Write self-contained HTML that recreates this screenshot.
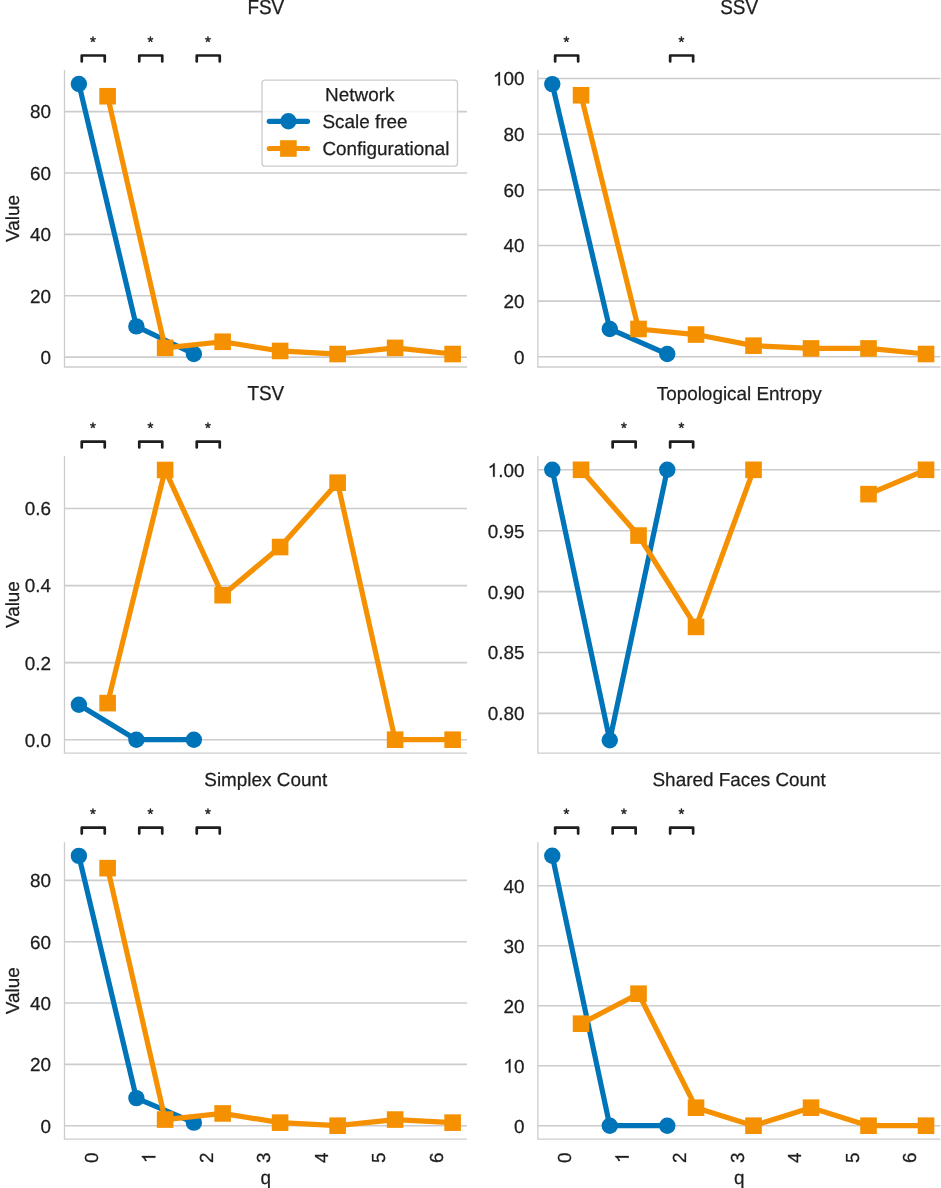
<!DOCTYPE html>
<html><head><meta charset="utf-8"><style>
html,body{margin:0;padding:0;background:#fff;}
svg{display:block;will-change:transform;}
text{font-family:"Liberation Sans",sans-serif;fill:#1e1e1e;stroke:#1e1e1e;stroke-width:0.25px;text-rendering:geometricPrecision;}
</style></head><body>
<svg width="941" height="1188" viewBox="0 0 941 1188">
<rect width="941" height="1188" fill="#fff"/>
<line x1="64.5" y1="357.1" x2="467" y2="357.1" stroke="#cccccc" stroke-width="1.6"/>
<text x="51.05" y="364" text-anchor="end" font-size="18.9">0</text>
<line x1="64.5" y1="295.72" x2="467" y2="295.72" stroke="#cccccc" stroke-width="1.6"/>
<text x="51.05" y="302.62" text-anchor="end" font-size="18.9">20</text>
<line x1="64.5" y1="234.34" x2="467" y2="234.34" stroke="#cccccc" stroke-width="1.6"/>
<text x="51.05" y="241.24" text-anchor="end" font-size="18.9">40</text>
<line x1="64.5" y1="172.96" x2="467" y2="172.96" stroke="#cccccc" stroke-width="1.6"/>
<text x="51.05" y="179.86" text-anchor="end" font-size="18.9">60</text>
<line x1="64.5" y1="111.58" x2="467" y2="111.58" stroke="#cccccc" stroke-width="1.6"/>
<text x="51.05" y="118.48" text-anchor="end" font-size="18.9">80</text>
<line x1="64.5" y1="70" x2="64.5" y2="367" stroke="#cccccc" stroke-width="1.3"/>
<line x1="63.85" y1="367" x2="467" y2="367" stroke="#cccccc" stroke-width="1.3"/>
<text transform="translate(265.75 13.9) scale(1 1.07)" text-anchor="middle" font-size="18.9">FSV</text>
<path d="M81.75 61.4V55.5H104.75V61.4" fill="none" stroke="#1e1e1e" stroke-width="2.7" stroke-linecap="round" stroke-linejoin="round"/>
<text x="93" y="46.72" text-anchor="middle" font-size="15" style="stroke-width:0.45px">*</text>
<path d="M139.25 61.4V55.5H162.25V61.4" fill="none" stroke="#1e1e1e" stroke-width="2.7" stroke-linecap="round" stroke-linejoin="round"/>
<text x="150.5" y="46.72" text-anchor="middle" font-size="15" style="stroke-width:0.45px">*</text>
<path d="M196.75 61.4V55.5H219.75V61.4" fill="none" stroke="#1e1e1e" stroke-width="2.7" stroke-linecap="round" stroke-linejoin="round"/>
<text x="208" y="46.72" text-anchor="middle" font-size="15" style="stroke-width:0.45px">*</text>
<path d="M78.88 83.96L136.38 326.41L193.88 354.03" fill="none" stroke="#0074b9" stroke-width="5.2" stroke-linejoin="round" stroke-linecap="round"/>
<circle cx="78.88" cy="83.96" r="8.2" fill="#0074b9"/>
<circle cx="136.38" cy="326.41" r="8.2" fill="#0074b9"/>
<circle cx="193.88" cy="354.03" r="8.2" fill="#0074b9"/>
<path d="M107.62 96.24L165.12 347.89L222.62 341.75L280.12 350.96L337.62 354.03L395.12 347.89L452.62 354.03" fill="none" stroke="#f59100" stroke-width="5.2" stroke-linejoin="round" stroke-linecap="round"/>
<rect x="99.33" y="87.94" width="16.6" height="16.6" fill="#f59100"/>
<rect x="156.82" y="339.59" width="16.6" height="16.6" fill="#f59100"/>
<rect x="214.32" y="333.45" width="16.6" height="16.6" fill="#f59100"/>
<rect x="271.82" y="342.66" width="16.6" height="16.6" fill="#f59100"/>
<rect x="329.32" y="345.73" width="16.6" height="16.6" fill="#f59100"/>
<rect x="386.82" y="339.59" width="16.6" height="16.6" fill="#f59100"/>
<rect x="444.32" y="345.73" width="16.6" height="16.6" fill="#f59100"/>
<text transform="translate(19.0 218.5) rotate(-90)" text-anchor="middle" font-size="18.9">Value</text>
<line x1="537.9" y1="356.8" x2="940.4" y2="356.8" stroke="#cccccc" stroke-width="1.6"/>
<text x="524.45" y="363.7" text-anchor="end" font-size="18.9">0</text>
<line x1="537.9" y1="301.15" x2="940.4" y2="301.15" stroke="#cccccc" stroke-width="1.6"/>
<text x="524.45" y="308.05" text-anchor="end" font-size="18.9">20</text>
<line x1="537.9" y1="245.5" x2="940.4" y2="245.5" stroke="#cccccc" stroke-width="1.6"/>
<text x="524.45" y="252.4" text-anchor="end" font-size="18.9">40</text>
<line x1="537.9" y1="189.85" x2="940.4" y2="189.85" stroke="#cccccc" stroke-width="1.6"/>
<text x="524.45" y="196.75" text-anchor="end" font-size="18.9">60</text>
<line x1="537.9" y1="134.2" x2="940.4" y2="134.2" stroke="#cccccc" stroke-width="1.6"/>
<text x="524.45" y="141.1" text-anchor="end" font-size="18.9">80</text>
<line x1="537.9" y1="78.55" x2="940.4" y2="78.55" stroke="#cccccc" stroke-width="1.6"/>
<path transform="translate(492.92 85.45) scale(0.00923 -0.00923)" d="M763 0L583 0L583 1147Q518 1085 433 1035Q348 985 223 938L223 1112Q447 1217 531 1302.5Q615 1388 646 1466L763 1466Z" fill="#1e1e1e" stroke="#1e1e1e" stroke-width="27.1"/><text x="503.43" y="85.45" font-size="18.9">00</text>
<line x1="537.9" y1="70" x2="537.9" y2="367" stroke="#cccccc" stroke-width="1.3"/>
<line x1="537.25" y1="367" x2="940.4" y2="367" stroke="#cccccc" stroke-width="1.3"/>
<text transform="translate(739.15 13.9) scale(1 1.07)" text-anchor="middle" font-size="18.9">SSV</text>
<path d="M555.15 61.4V55.5H578.15V61.4" fill="none" stroke="#1e1e1e" stroke-width="2.7" stroke-linecap="round" stroke-linejoin="round"/>
<text x="566.4" y="46.72" text-anchor="middle" font-size="15" style="stroke-width:0.45px">*</text>
<path d="M670.15 61.4V55.5H693.15V61.4" fill="none" stroke="#1e1e1e" stroke-width="2.7" stroke-linecap="round" stroke-linejoin="round"/>
<text x="681.4" y="46.72" text-anchor="middle" font-size="15" style="stroke-width:0.45px">*</text>
<path d="M552.27 84.12L609.77 328.98L667.27 354.02" fill="none" stroke="#0074b9" stroke-width="5.2" stroke-linejoin="round" stroke-linecap="round"/>
<circle cx="552.27" cy="84.12" r="8.2" fill="#0074b9"/>
<circle cx="609.77" cy="328.98" r="8.2" fill="#0074b9"/>
<circle cx="667.27" cy="354.02" r="8.2" fill="#0074b9"/>
<path d="M581.02 95.25L638.52 328.98L696.02 334.54L753.52 345.67L811.02 348.45L868.52 348.45L926.02 354.02" fill="none" stroke="#f59100" stroke-width="5.2" stroke-linejoin="round" stroke-linecap="round"/>
<rect x="572.73" y="86.95" width="16.6" height="16.6" fill="#f59100"/>
<rect x="630.23" y="320.68" width="16.6" height="16.6" fill="#f59100"/>
<rect x="687.73" y="326.24" width="16.6" height="16.6" fill="#f59100"/>
<rect x="745.23" y="337.37" width="16.6" height="16.6" fill="#f59100"/>
<rect x="802.73" y="340.15" width="16.6" height="16.6" fill="#f59100"/>
<rect x="860.23" y="340.15" width="16.6" height="16.6" fill="#f59100"/>
<rect x="917.73" y="345.72" width="16.6" height="16.6" fill="#f59100"/>
<line x1="64.5" y1="739.7" x2="467" y2="739.7" stroke="#cccccc" stroke-width="1.6"/>
<text x="51.05" y="746.6" text-anchor="end" font-size="18.9">0.0</text>
<line x1="64.5" y1="662.64" x2="467" y2="662.64" stroke="#cccccc" stroke-width="1.6"/>
<text x="51.05" y="669.54" text-anchor="end" font-size="18.9">0.2</text>
<line x1="64.5" y1="585.58" x2="467" y2="585.58" stroke="#cccccc" stroke-width="1.6"/>
<text x="51.05" y="592.48" text-anchor="end" font-size="18.9">0.4</text>
<line x1="64.5" y1="508.52" x2="467" y2="508.52" stroke="#cccccc" stroke-width="1.6"/>
<text x="51.05" y="515.42" text-anchor="end" font-size="18.9">0.6</text>
<line x1="64.5" y1="456.1" x2="64.5" y2="753.1" stroke="#cccccc" stroke-width="1.3"/>
<line x1="63.85" y1="753.1" x2="467" y2="753.1" stroke="#cccccc" stroke-width="1.3"/>
<text transform="translate(265.75 400) scale(1 1.07)" text-anchor="middle" font-size="18.9">TSV</text>
<path d="M81.75 447.5V441.6H104.75V447.5" fill="none" stroke="#1e1e1e" stroke-width="2.7" stroke-linecap="round" stroke-linejoin="round"/>
<text x="93" y="432.82" text-anchor="middle" font-size="15" style="stroke-width:0.45px">*</text>
<path d="M139.25 447.5V441.6H162.25V447.5" fill="none" stroke="#1e1e1e" stroke-width="2.7" stroke-linecap="round" stroke-linejoin="round"/>
<text x="150.5" y="432.82" text-anchor="middle" font-size="15" style="stroke-width:0.45px">*</text>
<path d="M196.75 447.5V441.6H219.75V447.5" fill="none" stroke="#1e1e1e" stroke-width="2.7" stroke-linecap="round" stroke-linejoin="round"/>
<text x="208" y="432.82" text-anchor="middle" font-size="15" style="stroke-width:0.45px">*</text>
<path d="M78.88 704.71L136.38 739.7L193.88 739.7" fill="none" stroke="#0074b9" stroke-width="5.2" stroke-linejoin="round" stroke-linecap="round"/>
<circle cx="78.88" cy="704.71" r="8.2" fill="#0074b9"/>
<circle cx="136.38" cy="739.7" r="8.2" fill="#0074b9"/>
<circle cx="193.88" cy="739.7" r="8.2" fill="#0074b9"/>
<path d="M107.62 703.1L165.12 469.99L222.62 595.21L280.12 547.05L337.62 482.7L395.12 739.7L452.62 739.7" fill="none" stroke="#f59100" stroke-width="5.2" stroke-linejoin="round" stroke-linecap="round"/>
<rect x="99.33" y="694.8" width="16.6" height="16.6" fill="#f59100"/>
<rect x="156.82" y="461.69" width="16.6" height="16.6" fill="#f59100"/>
<rect x="214.32" y="586.91" width="16.6" height="16.6" fill="#f59100"/>
<rect x="271.82" y="538.75" width="16.6" height="16.6" fill="#f59100"/>
<rect x="329.32" y="474.4" width="16.6" height="16.6" fill="#f59100"/>
<rect x="386.82" y="731.4" width="16.6" height="16.6" fill="#f59100"/>
<rect x="444.32" y="731.4" width="16.6" height="16.6" fill="#f59100"/>
<text transform="translate(19.0 604.6) rotate(-90)" text-anchor="middle" font-size="18.9">Value</text>
<line x1="537.9" y1="713.4" x2="940.4" y2="713.4" stroke="#cccccc" stroke-width="1.6"/>
<text x="524.45" y="720.3" text-anchor="end" font-size="18.9">0.80</text>
<line x1="537.9" y1="652.5" x2="940.4" y2="652.5" stroke="#cccccc" stroke-width="1.6"/>
<text x="524.45" y="659.4" text-anchor="end" font-size="18.9">0.85</text>
<line x1="537.9" y1="591.6" x2="940.4" y2="591.6" stroke="#cccccc" stroke-width="1.6"/>
<text x="524.45" y="598.5" text-anchor="end" font-size="18.9">0.90</text>
<line x1="537.9" y1="530.7" x2="940.4" y2="530.7" stroke="#cccccc" stroke-width="1.6"/>
<text x="524.45" y="537.6" text-anchor="end" font-size="18.9">0.95</text>
<line x1="537.9" y1="469.8" x2="940.4" y2="469.8" stroke="#cccccc" stroke-width="1.6"/>
<path transform="translate(487.67 476.7) scale(0.00923 -0.00923)" d="M763 0L583 0L583 1147Q518 1085 433 1035Q348 985 223 938L223 1112Q447 1217 531 1302.5Q615 1388 646 1466L763 1466Z" fill="#1e1e1e" stroke="#1e1e1e" stroke-width="27.1"/><text x="498.18" y="476.7" font-size="18.9">.00</text>
<line x1="537.9" y1="456.1" x2="537.9" y2="753.1" stroke="#cccccc" stroke-width="1.3"/>
<line x1="537.25" y1="753.1" x2="940.4" y2="753.1" stroke="#cccccc" stroke-width="1.3"/>
<text transform="translate(739.15 400) scale(1 1.0)" text-anchor="middle" font-size="18.9">Topological Entropy</text>
<path d="M612.65 447.5V441.6H635.65V447.5" fill="none" stroke="#1e1e1e" stroke-width="2.7" stroke-linecap="round" stroke-linejoin="round"/>
<text x="623.9" y="432.82" text-anchor="middle" font-size="15" style="stroke-width:0.45px">*</text>
<path d="M670.15 447.5V441.6H693.15V447.5" fill="none" stroke="#1e1e1e" stroke-width="2.7" stroke-linecap="round" stroke-linejoin="round"/>
<text x="681.4" y="432.82" text-anchor="middle" font-size="15" style="stroke-width:0.45px">*</text>
<path d="M552.27 469.8L609.77 740.2L667.27 469.8" fill="none" stroke="#0074b9" stroke-width="5.2" stroke-linejoin="round" stroke-linecap="round"/>
<circle cx="552.27" cy="469.8" r="8.2" fill="#0074b9"/>
<circle cx="609.77" cy="740.2" r="8.2" fill="#0074b9"/>
<circle cx="667.27" cy="469.8" r="8.2" fill="#0074b9"/>
<path d="M581.02 469.8L638.52 535.57L696.02 626.92L753.52 469.8" fill="none" stroke="#f59100" stroke-width="5.2" stroke-linejoin="round" stroke-linecap="round"/>
<path d="M868.52 494.16L926.02 469.8" fill="none" stroke="#f59100" stroke-width="5.2" stroke-linejoin="round" stroke-linecap="round"/>
<rect x="572.73" y="461.5" width="16.6" height="16.6" fill="#f59100"/>
<rect x="630.23" y="527.27" width="16.6" height="16.6" fill="#f59100"/>
<rect x="687.73" y="618.62" width="16.6" height="16.6" fill="#f59100"/>
<rect x="745.23" y="461.5" width="16.6" height="16.6" fill="#f59100"/>
<rect x="860.23" y="485.86" width="16.6" height="16.6" fill="#f59100"/>
<rect x="917.73" y="461.5" width="16.6" height="16.6" fill="#f59100"/>
<line x1="64.5" y1="1125.7" x2="467" y2="1125.7" stroke="#cccccc" stroke-width="1.6"/>
<text x="51.05" y="1132.6" text-anchor="end" font-size="18.9">0</text>
<line x1="64.5" y1="1064.38" x2="467" y2="1064.38" stroke="#cccccc" stroke-width="1.6"/>
<text x="51.05" y="1071.28" text-anchor="end" font-size="18.9">20</text>
<line x1="64.5" y1="1003.06" x2="467" y2="1003.06" stroke="#cccccc" stroke-width="1.6"/>
<text x="51.05" y="1009.96" text-anchor="end" font-size="18.9">40</text>
<line x1="64.5" y1="941.74" x2="467" y2="941.74" stroke="#cccccc" stroke-width="1.6"/>
<text x="51.05" y="948.64" text-anchor="end" font-size="18.9">60</text>
<line x1="64.5" y1="880.42" x2="467" y2="880.42" stroke="#cccccc" stroke-width="1.6"/>
<text x="51.05" y="887.32" text-anchor="end" font-size="18.9">80</text>
<line x1="64.5" y1="842.2" x2="64.5" y2="1139.2" stroke="#cccccc" stroke-width="1.3"/>
<line x1="63.85" y1="1139.2" x2="467" y2="1139.2" stroke="#cccccc" stroke-width="1.3"/>
<text transform="translate(265.75 786.1) scale(1 1.0)" text-anchor="middle" font-size="18.9">Simplex Count</text>
<path d="M81.75 833.6V827.7H104.75V833.6" fill="none" stroke="#1e1e1e" stroke-width="2.7" stroke-linecap="round" stroke-linejoin="round"/>
<text x="93" y="818.92" text-anchor="middle" font-size="15" style="stroke-width:0.45px">*</text>
<path d="M139.25 833.6V827.7H162.25V833.6" fill="none" stroke="#1e1e1e" stroke-width="2.7" stroke-linecap="round" stroke-linejoin="round"/>
<text x="150.5" y="818.92" text-anchor="middle" font-size="15" style="stroke-width:0.45px">*</text>
<path d="M196.75 833.6V827.7H219.75V833.6" fill="none" stroke="#1e1e1e" stroke-width="2.7" stroke-linecap="round" stroke-linejoin="round"/>
<text x="208" y="818.92" text-anchor="middle" font-size="15" style="stroke-width:0.45px">*</text>
<path d="M78.88 855.89L136.38 1098.11L193.88 1122.63" fill="none" stroke="#0074b9" stroke-width="5.2" stroke-linejoin="round" stroke-linecap="round"/>
<circle cx="78.88" cy="855.89" r="8.2" fill="#0074b9"/>
<circle cx="136.38" cy="1098.11" r="8.2" fill="#0074b9"/>
<circle cx="193.88" cy="1122.63" r="8.2" fill="#0074b9"/>
<path d="M107.62 868.16L165.12 1119.57L222.62 1113.44L280.12 1122.63L337.62 1125.7L395.12 1119.57L452.62 1122.63" fill="none" stroke="#f59100" stroke-width="5.2" stroke-linejoin="round" stroke-linecap="round"/>
<rect x="99.33" y="859.86" width="16.6" height="16.6" fill="#f59100"/>
<rect x="156.82" y="1111.27" width="16.6" height="16.6" fill="#f59100"/>
<rect x="214.32" y="1105.14" width="16.6" height="16.6" fill="#f59100"/>
<rect x="271.82" y="1114.33" width="16.6" height="16.6" fill="#f59100"/>
<rect x="329.32" y="1117.4" width="16.6" height="16.6" fill="#f59100"/>
<rect x="386.82" y="1111.27" width="16.6" height="16.6" fill="#f59100"/>
<rect x="444.32" y="1114.33" width="16.6" height="16.6" fill="#f59100"/>
<text transform="translate(19.0 990.7) rotate(-90)" text-anchor="middle" font-size="18.9">Value</text>
<text transform="translate(97.85 1152.5) rotate(-90)" text-anchor="end" font-size="18.9">0</text>
<path transform="translate(155.35 1152.5) rotate(-90) translate(-10.51 0) scale(0.00923 -0.00923)" d="M763 0L583 0L583 1147Q518 1085 433 1035Q348 985 223 938L223 1112Q447 1217 531 1302.5Q615 1388 646 1466L763 1466Z" fill="#1e1e1e" stroke="#1e1e1e" stroke-width="27.1"/>
<text transform="translate(212.85 1152.5) rotate(-90)" text-anchor="end" font-size="18.9">2</text>
<text transform="translate(270.35 1152.5) rotate(-90)" text-anchor="end" font-size="18.9">3</text>
<text transform="translate(327.85 1152.5) rotate(-90)" text-anchor="end" font-size="18.9">4</text>
<text transform="translate(385.35 1152.5) rotate(-90)" text-anchor="end" font-size="18.9">5</text>
<text transform="translate(442.85 1152.5) rotate(-90)" text-anchor="end" font-size="18.9">6</text>
<text x="265.75" y="1183.8" text-anchor="middle" font-size="18.9">q</text>
<line x1="537.9" y1="1125.7" x2="940.4" y2="1125.7" stroke="#cccccc" stroke-width="1.6"/>
<text x="524.45" y="1132.6" text-anchor="end" font-size="18.9">0</text>
<line x1="537.9" y1="1065.7" x2="940.4" y2="1065.7" stroke="#cccccc" stroke-width="1.6"/>
<path transform="translate(503.43 1072.6) scale(0.00923 -0.00923)" d="M763 0L583 0L583 1147Q518 1085 433 1035Q348 985 223 938L223 1112Q447 1217 531 1302.5Q615 1388 646 1466L763 1466Z" fill="#1e1e1e" stroke="#1e1e1e" stroke-width="27.1"/><text x="513.94" y="1072.6" font-size="18.9">0</text>
<line x1="537.9" y1="1005.7" x2="940.4" y2="1005.7" stroke="#cccccc" stroke-width="1.6"/>
<text x="524.45" y="1012.6" text-anchor="end" font-size="18.9">20</text>
<line x1="537.9" y1="945.7" x2="940.4" y2="945.7" stroke="#cccccc" stroke-width="1.6"/>
<text x="524.45" y="952.6" text-anchor="end" font-size="18.9">30</text>
<line x1="537.9" y1="885.7" x2="940.4" y2="885.7" stroke="#cccccc" stroke-width="1.6"/>
<text x="524.45" y="892.6" text-anchor="end" font-size="18.9">40</text>
<line x1="537.9" y1="842.2" x2="537.9" y2="1139.2" stroke="#cccccc" stroke-width="1.3"/>
<line x1="537.25" y1="1139.2" x2="940.4" y2="1139.2" stroke="#cccccc" stroke-width="1.3"/>
<text transform="translate(739.15 786.1) scale(1 1.0)" text-anchor="middle" font-size="18.9">Shared Faces Count</text>
<path d="M555.15 833.6V827.7H578.15V833.6" fill="none" stroke="#1e1e1e" stroke-width="2.7" stroke-linecap="round" stroke-linejoin="round"/>
<text x="566.4" y="818.92" text-anchor="middle" font-size="15" style="stroke-width:0.45px">*</text>
<path d="M612.65 833.6V827.7H635.65V833.6" fill="none" stroke="#1e1e1e" stroke-width="2.7" stroke-linecap="round" stroke-linejoin="round"/>
<text x="623.9" y="818.92" text-anchor="middle" font-size="15" style="stroke-width:0.45px">*</text>
<path d="M670.15 833.6V827.7H693.15V833.6" fill="none" stroke="#1e1e1e" stroke-width="2.7" stroke-linecap="round" stroke-linejoin="round"/>
<text x="681.4" y="818.92" text-anchor="middle" font-size="15" style="stroke-width:0.45px">*</text>
<path d="M552.27 855.7L609.77 1125.7L667.27 1125.7" fill="none" stroke="#0074b9" stroke-width="5.2" stroke-linejoin="round" stroke-linecap="round"/>
<circle cx="552.27" cy="855.7" r="8.2" fill="#0074b9"/>
<circle cx="609.77" cy="1125.7" r="8.2" fill="#0074b9"/>
<circle cx="667.27" cy="1125.7" r="8.2" fill="#0074b9"/>
<path d="M581.02 1023.7L638.52 993.7L696.02 1107.7L753.52 1125.7L811.02 1107.7L868.52 1125.7L926.02 1125.7" fill="none" stroke="#f59100" stroke-width="5.2" stroke-linejoin="round" stroke-linecap="round"/>
<rect x="572.73" y="1015.4" width="16.6" height="16.6" fill="#f59100"/>
<rect x="630.23" y="985.4" width="16.6" height="16.6" fill="#f59100"/>
<rect x="687.73" y="1099.4" width="16.6" height="16.6" fill="#f59100"/>
<rect x="745.23" y="1117.4" width="16.6" height="16.6" fill="#f59100"/>
<rect x="802.73" y="1099.4" width="16.6" height="16.6" fill="#f59100"/>
<rect x="860.23" y="1117.4" width="16.6" height="16.6" fill="#f59100"/>
<rect x="917.73" y="1117.4" width="16.6" height="16.6" fill="#f59100"/>
<text transform="translate(571.25 1152.5) rotate(-90)" text-anchor="end" font-size="18.9">0</text>
<path transform="translate(628.75 1152.5) rotate(-90) translate(-10.51 0) scale(0.00923 -0.00923)" d="M763 0L583 0L583 1147Q518 1085 433 1035Q348 985 223 938L223 1112Q447 1217 531 1302.5Q615 1388 646 1466L763 1466Z" fill="#1e1e1e" stroke="#1e1e1e" stroke-width="27.1"/>
<text transform="translate(686.25 1152.5) rotate(-90)" text-anchor="end" font-size="18.9">2</text>
<text transform="translate(743.75 1152.5) rotate(-90)" text-anchor="end" font-size="18.9">3</text>
<text transform="translate(801.25 1152.5) rotate(-90)" text-anchor="end" font-size="18.9">4</text>
<text transform="translate(858.75 1152.5) rotate(-90)" text-anchor="end" font-size="18.9">5</text>
<text transform="translate(916.25 1152.5) rotate(-90)" text-anchor="end" font-size="18.9">6</text>
<text x="739.15" y="1183.8" text-anchor="middle" font-size="18.9">q</text>
<rect x="262" y="80.1" width="195.5" height="86.1" rx="3" fill="#ffffff" fill-opacity="0.8" stroke="#cccccc" stroke-width="1.3"/>
<text x="359.75" y="101.2" text-anchor="middle" font-size="18.9">Network</text>
<line x1="269.3" y1="121.3" x2="307.5" y2="121.3" stroke="#0074b9" stroke-width="5.2" stroke-linecap="round"/>
<circle cx="288.4" cy="121.3" r="8.2" fill="#0074b9"/>
<text x="322.4" y="127.8" font-size="18.9">Scale free</text>
<line x1="269.3" y1="148.5" x2="307.5" y2="148.5" stroke="#f59100" stroke-width="5.2" stroke-linecap="round"/>
<rect x="280.1" y="140.2" width="16.6" height="16.6" fill="#f59100"/>
<text x="322.4" y="155" font-size="18.9">Configurational</text>
</svg>
</body></html>
